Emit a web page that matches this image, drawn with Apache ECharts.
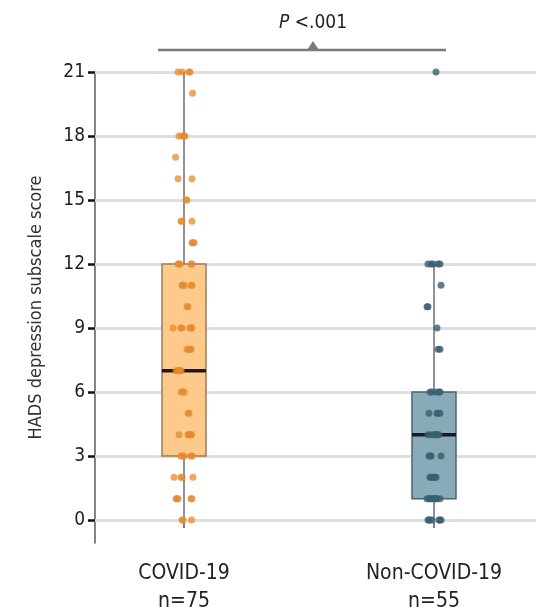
<!DOCTYPE html>
<html>
<head>
<meta charset="utf-8">
<script src="https://cdn.jsdelivr.net/npm/echarts@6/dist/echarts.min.js"></script>
<style>
  html, body { margin: 0; padding: 0; background: #fff; }
  #chart { width: 536px; height: 607px; }
</style>
</head>
<body>
<div id="chart"></div>
<script>
var categories = ['COVID-19', 'Non-COVID-19']
var groupSizes = [75, 55]
var yTicks = [0, 3, 6, 9, 12, 15, 18, 21]
// whisker low, Q1, median, Q3, whisker high
var covidBox = [0, 3, 7, 12, 21]
var nonCovidBox = [0, 1, 4, 6, 12]

// individual scores; jitter = horizontal offset of each dot
var covidScores = [21, 21, 21, 21, 20, 18, 18, 18, 18, 17, 16, 16, 15, 15, 14, 14, 14, 13, 13, 13,
  12, 12, 12, 12, 12, 11, 11, 11, 11, 11, 10, 10, 9, 9, 9, 9, 9, 9, 8, 8, 8, 8, 7, 7, 7, 7, 7,
  6, 6, 6, 5, 5, 4, 4, 4, 4, 4, 4, 3, 3, 3, 3, 3, 2, 2, 2, 2, 1, 1, 1, 1, 1, 0, 0, 0]
var covidJitter = [-0.024, -0.006, 0.024, 0.02, 0.034, -0.02, -0.008, 0.004, 0, -0.034, -0.024, 0.032,
  0.012, 0.008, -0.012, 0.032, -0.008, 0.032, 0.04, 0.036, -0.024, -0.016, 0.028, 0.032, -0.02,
  -0.008, 0, 0.032, 0.028, -0.004, 0.016, 0.012, -0.044, -0.012, 0.024, 0.032, 0.028, -0.008,
  0.012, 0.026, 0.02, 0.028, -0.032, -0.02, -0.012, -0.024, -0.016, -0.012, 0, -0.004, 0.02, 0.016,
  -0.02, 0.016, 0.024, 0.03, 0.02, 0.028, -0.012, 0, 0.032, -0.008, 0.028, -0.04, -0.008, 0.036,
  -0.012, -0.032, -0.024, 0.032, -0.028, 0.028, -0.008, 0.03, -0.004]
var nonCovidScores = [21, 12, 12, 12, 12, 12, 11, 10, 10, 9, 8, 8, 6, 6, 6, 6, 6, 5, 5, 5, 5,
  4, 4, 4, 4, 4, 4, 4, 3, 3, 3, 3, 2, 2, 2, 2, 2, 2, 1, 1, 1, 1, 1, 1, 1, 1, 1, 1, 0, 0, 0, 0, 0, 0, 0]
var nonCovidJitter = [0.008, -0.024, -0.012, -0.004, 0.016, 0.024, 0.028, -0.028, -0.024, 0.012,
  0.016, 0.024, -0.016, -0.008, 0.008, 0.02, 0.024, -0.02, 0.012, 0.016, 0.024, -0.024, -0.012, 0,
  0.008, 0.02, 0.004, 0.012, -0.02, -0.012, 0.028, -0.016, -0.016, -0.008, 0, 0.008, -0.012, 0.004,
  -0.028, -0.02, -0.012, -0.004, 0.004, 0.012, 0.024, -0.016, 0, 0.008, -0.024, -0.016, -0.008,
  0.02, 0.028, -0.02, 0.024]

var font = "'DejaVu Sans Condensed', 'Liberation Sans Narrow', sans-serif"
var fills = ['#fdca8c', '#89abb9']
var borders = ['#9c7b59', '#4b6570']
var dotColors = ['#e68a2e', '#3a6070']

function dots(scores, jitter, pos) {
  return scores.map(function(s, i) { return [pos + jitter[i], s] })
}

var chart = echarts.init(document.getElementById('chart'))

chart.setOption({
  animation: false,
  grid: { left: 95, right: 0, top: 72, bottom: 64, outerBoundsMode: 'none' },
  xAxis: {
    type: 'value',
    min: 0.644,
    max: 2.408,
    splitLine: { show: false },
    axisLine: { lineStyle: { color: '#666', width: 1.5 } },
    axisTick: { customValues: [1, 2], length: 8, lineStyle: { color: '#555', width: 1.5 } },
    axisLabel: {
      customValues: [1, 2],
      margin: 17,
      fontFamily: font,
      fontSize: 21,
      lineHeight: 28,
      color: '#222',
      formatter: function(v) {
        var i = Math.round(v) - 1
        return categories[i] + '\nn=' + groupSizes[i]
      }
    }
  },
  yAxis: {
    type: 'value',
    min: -1.08,
    max: 21,
    name: 'HADS depression subscale score',
    nameLocation: 'middle',
    nameGap: 50,
    nameTextStyle: { fontFamily: font, fontSize: 18, color: '#333' },
    splitLine: { show: false },
    axisLine: { show: true, lineStyle: { color: '#5a5a5a', width: 1.5 } },
    axisTick: { customValues: yTicks, length: 7, lineStyle: { color: '#111', width: 2.5 } },
    axisLabel: { customValues: yTicks, margin: 10, fontFamily: font, fontSize: 19, color: '#222' }
  },
  graphic: [
    { type: 'line', shape: { x1: 158, y1: 50, x2: 446, y2: 50 }, style: { stroke: '#7a7a7a', lineWidth: 2.5 } },
    { type: 'polygon', shape: { points: [[307, 50], [319, 50], [313, 41]] }, style: { fill: '#7a7a7a' } },
    {
      type: 'text', x: 313, y: 23,
      style: {
        text: '{i|P} <.001', align: 'center', verticalAlign: 'middle',
        fontFamily: font, fontSize: 19, fill: '#222',
        rich: { i: { fontStyle: 'italic', fontFamily: font, fontSize: 19, fill: '#222' } }
      }
    }
  ],
  series: [
    {
      // horizontal grid lines
      type: 'line',
      data: [],
      z: 1,
      silent: true,
      markLine: {
        z: 1,
        silent: true,
        symbol: 'none',
        label: { show: false },
        lineStyle: { color: '#dedede', width: 3, type: 'solid' },
        data: yTicks.map(function(t) { return { yAxis: t } })
      }
    },
    {
      type: 'custom',
      z: 2,
      silent: true,
      data: [[1].concat(covidBox), [2].concat(nonCovidBox)],
      renderItem: function(params, api) {
        var x = api.value(0)
        var idx = params.dataIndex
        var half = api.size([0.088, 0])[0]
        var c = api.coord([x, 0])[0]
        var yLo = api.coord([x, api.value(1)])[1]
        var yQ1 = api.coord([x, api.value(2)])[1]
        var yMed = api.coord([x, api.value(3)])[1]
        var yQ3 = api.coord([x, api.value(4)])[1]
        var yHi = api.coord([x, api.value(5)])[1]
        var whisker = { stroke: '#6e6e6e', lineWidth: 1.5 }
        return {
          type: 'group',
          children: [
            { type: 'line', shape: { x1: c, y1: yHi, x2: c, y2: yQ3 }, style: whisker },
            { type: 'line', shape: { x1: c, y1: yQ1, x2: c, y2: yLo }, style: whisker },
            {
              type: 'rect',
              shape: { x: c - half, y: yQ3, width: half * 2, height: yQ1 - yQ3 },
              style: { fill: fills[idx], stroke: borders[idx], lineWidth: 1.5 }
            },
            { type: 'line', shape: { x1: c - half, y1: yMed, x2: c + half, y2: yMed }, style: { stroke: '#1a1a1a', lineWidth: 3.5 } }
          ]
        }
      }
    },
    {
      type: 'scatter',
      z: 3,
      symbolSize: 7,
      itemStyle: { color: dotColors[0], opacity: 0.75 },
      data: dots(covidScores, covidJitter, 1)
    },
    {
      type: 'scatter',
      z: 3,
      symbolSize: 7,
      itemStyle: { color: dotColors[1], opacity: 0.8 },
      data: dots(nonCovidScores, nonCovidJitter, 2)
    }
  ]
})
</script>
</body>
</html>
